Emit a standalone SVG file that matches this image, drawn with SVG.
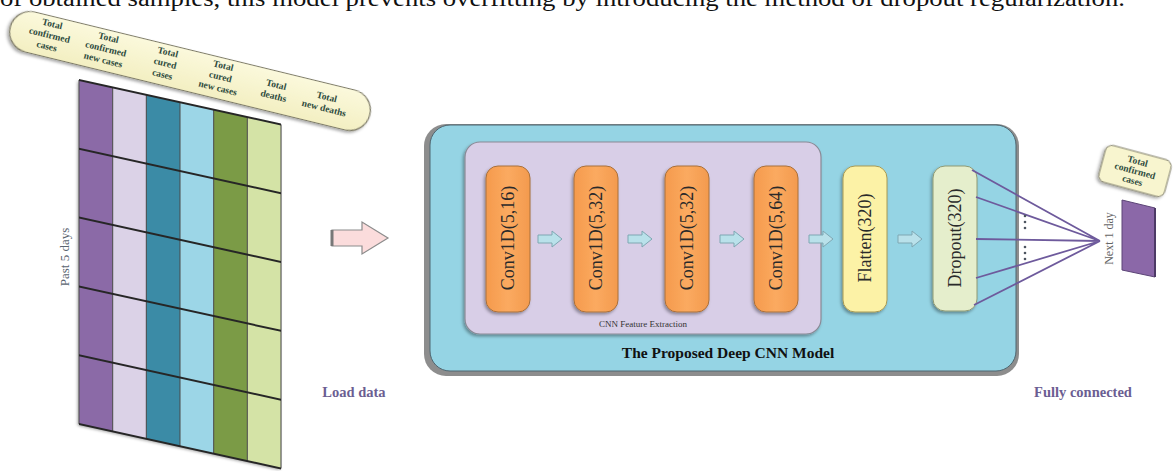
<svg xmlns="http://www.w3.org/2000/svg" width="1176" height="471" viewBox="0 0 1176 471">
<style>
.serif{font-family:"Liberation Serif","Times New Roman",serif}
.hdr{font-family:"Liberation Serif","Times New Roman",serif;font-weight:bold;font-size:9.5px;fill:#2f4c3e;text-anchor:middle}
.lay{font-family:"Liberation Serif","Times New Roman",serif;font-size:18px;fill:#2a2a2a;text-anchor:middle;dominant-baseline:central}
.cap{font-family:"Liberation Serif","Times New Roman",serif;font-weight:bold;font-size:14.5px;fill:#6b5e92}
.grow{stroke:#262626;stroke-width:2;fill:none}
.gcol{stroke:#4a4a4a;stroke-width:1;fill:none}
.fc{stroke:#6e5a9c;stroke-width:1.8;fill:none}
.sa{fill:#b9e1ea;stroke:#7fa7b2;stroke-width:1}
</style>
<defs>
<filter id="sh" x="-20%" y="-20%" width="140%" height="140%">
<feDropShadow dx="-1.5" dy="2" stdDeviation="1.5" flood-color="#000" flood-opacity="0.35"/>
</filter>
<linearGradient id="gOr" x1="0" y1="0" x2="1" y2="0">
<stop offset="0" stop-color="#f59a4c"/><stop offset="0.5" stop-color="#fbaa60"/><stop offset="1" stop-color="#f39a4e"/>
</linearGradient>
<linearGradient id="gPill" x1="0" y1="0" x2="0" y2="1">
<stop offset="0" stop-color="#fbf9dc"/><stop offset="1" stop-color="#f3efc2"/>
</linearGradient>
<path id="sa" d="M0,-4 H14 V-8 L24,0 L14,8 V4 H0 Z"/>
</defs>

<text class="serif" x="0" y="6" font-size="24" fill="#111" textLength="1125" lengthAdjust="spacingAndGlyphs">of obtained samples, this model prevents overfitting by introducing the method of dropout regularization.</text>

<g id="header">
<g transform="translate(190,71) rotate(13.7)">
<rect x="-185" y="-20.5" width="370" height="41" rx="20.5" fill="url(#gPill)" stroke="#7d7a66" stroke-width="1.2" filter="url(#sh)"/>
<text class="hdr" x="-145" y="-10">Total<tspan x="-145" dy="11.5">confirmed</tspan><tspan x="-145" dy="11.5">cases</tspan></text>
<text class="hdr" x="-87" y="-10">Total<tspan x="-87" dy="11.5">confirmed</tspan><tspan x="-87" dy="11.5">new cases</tspan></text>
<text class="hdr" x="-26" y="-10">Total<tspan x="-26" dy="11.5">cured</tspan><tspan x="-26" dy="11.5">cases</tspan></text>
<text class="hdr" x="31" y="-10">Total<tspan x="31" dy="11.5">cured</tspan><tspan x="31" dy="11.5">new cases</tspan></text>
<text class="hdr" x="87" y="-4">Total<tspan x="87" dy="11.5">deaths</tspan></text>
<text class="hdr" x="139" y="-4">Total<tspan x="139" dy="11.5">new deaths</tspan></text>
</g>
</g>

<g id="input-grid">
<g transform="matrix(1,0.22,0,1,0,-17.38)">
<rect x="79" y="80" width="202" height="344" fill="#888" filter="url(#sh)"/>
<rect x="79" y="80" width="33.7" height="344" fill="#8b6aa7"/>
<rect x="112.7" y="80" width="33.6" height="344" fill="#dbd2e7"/>
<rect x="146.3" y="80" width="33.7" height="344" fill="#3b8ba6"/>
<rect x="180" y="80" width="33.7" height="344" fill="#9cd6e7"/>
<rect x="213.7" y="80" width="33.6" height="344" fill="#7b9b46"/>
<rect x="247.3" y="80" width="33.7" height="344" fill="#d4e3a6"/>
<path class="gcol" d="M79,80 V424 M112.7,80 V424 M146.3,80 V424 M180,80 V424 M213.7,80 V424 M247.3,80 V424 M281,80 V424"/>
<path class="grow" d="M79,80 H281 M79,148.8 H281 M79,217.6 H281 M79,286.4 H281 M79,355.2 H281 M79,424 H281"/>
</g>
<text class="serif" transform="translate(69,257) rotate(-90)" font-size="13" fill="#5a6470" text-anchor="middle">Past 5 days</text>
</g>

<g id="load-arrow">
<path d="M332,230 H362 V222 L388,238 L362,254 V246 H332 Z" fill="#fbdcdc" stroke="#8c8c8c" stroke-width="1.2"/>
<path d="M332,230 V246" stroke="#777" stroke-width="3"/>
<text class="cap" x="354" y="397" text-anchor="middle">Load data</text>
</g>

<g id="model">
<rect x="424" y="124" width="595" height="252" rx="22" fill="#8d8d8d"/>
<rect x="430" y="125" width="586" height="246" rx="20" fill="#95d4e4" stroke="#4f6670" stroke-width="1"/>
<text class="serif" x="728" y="358" font-size="15.5" font-weight="bold" fill="#111" text-anchor="middle">The Proposed Deep CNN Model</text>
</g>

<g id="feature-extraction">
<rect x="465" y="142" width="356" height="192" rx="15" fill="#d8cee7" stroke="#8a8a96" stroke-width="1.2" filter="url(#sh)"/>
<text class="serif" x="643" y="327" font-size="9" fill="#333" text-anchor="middle">CNN Feature Extraction</text>
</g>

<g id="conv1">
<rect x="486" y="166" width="44" height="146" rx="12" fill="url(#gOr)" stroke="#a8703c" stroke-width="1" filter="url(#sh)"/>
<text class="lay" transform="translate(508,238) rotate(-90)">Conv1D(5,16)</text>
</g>
<g id="conv2">
<rect x="574" y="166" width="44" height="146" rx="12" fill="url(#gOr)" stroke="#a8703c" stroke-width="1" filter="url(#sh)"/>
<text class="lay" transform="translate(596,238) rotate(-90)">Conv1D(5,32)</text>
</g>
<g id="conv3">
<rect x="665" y="166" width="44" height="146" rx="12" fill="url(#gOr)" stroke="#a8703c" stroke-width="1" filter="url(#sh)"/>
<text class="lay" transform="translate(687,238) rotate(-90)">Conv1D(5,32)</text>
</g>
<g id="conv4">
<rect x="754" y="166" width="44" height="146" rx="12" fill="url(#gOr)" stroke="#a8703c" stroke-width="1" filter="url(#sh)"/>
<text class="lay" transform="translate(776,238) rotate(-90)">Conv1D(5,64)</text>
</g>
<g id="flatten">
<rect x="843" y="166" width="44" height="146" rx="12" fill="#fcf2a6" stroke="#a89a55" stroke-width="1" filter="url(#sh)"/>
<text class="lay" transform="translate(865,238) rotate(-90)">Flatten(320)</text>
</g>
<g id="dropout">
<rect x="933" y="166" width="44" height="145" rx="12" fill="#e5eecc" stroke="#8f9a74" stroke-width="1" filter="url(#sh)"/>
<text class="lay" transform="translate(955,238) rotate(-90)">Dropout(320)</text>
</g>

<g id="output">
<g transform="translate(1135,171) rotate(15)">
<rect x="-34" y="-19" width="68" height="38" rx="7" fill="#f8f5cf" stroke="#7d7a66" stroke-width="1" filter="url(#sh)"/>
<text class="hdr" x="0" y="-7" font-size="8.5">Total<tspan x="0" dy="10">confirmed</tspan><tspan x="0" dy="10">cases</tspan></text>
</g>
<path d="M1122,200 L1155,208 L1155,277 L1122,270 Z" fill="#8b68a8" stroke="#5c4577" stroke-width="1"/>
<path d="M1155,208 V277" stroke="#4d3a66" stroke-width="2"/>
<text class="serif" transform="translate(1113,238.5) rotate(-90)" font-size="12" fill="#666" text-anchor="middle">Next 1 day</text>
<text class="cap" x="1083" y="397" text-anchor="middle">Fully connected</text>
</g>

<g id="connectors">
<use href="#sa" x="538" y="239" class="sa"/>
<use href="#sa" x="628" y="239" class="sa"/>
<use href="#sa" x="720" y="239" class="sa"/>
<use href="#sa" x="809" y="239" class="sa"/>
<use href="#sa" x="898" y="239" class="sa"/>
<path class="fc" d="M972,170 L1100,241 M976,197 L1100,241 M976,239 L1100,241 M976,278 L1100,241 M974,305 L1100,241"/>
<g fill="#4d5560">
<circle cx="1025" cy="216" r="1.3"/><circle cx="1025" cy="222" r="1.3"/><circle cx="1025" cy="228" r="1.3"/>
<circle cx="1025" cy="247" r="1.3"/><circle cx="1025" cy="253" r="1.3"/><circle cx="1025" cy="259" r="1.3"/>
</g>
</g>
</svg>
